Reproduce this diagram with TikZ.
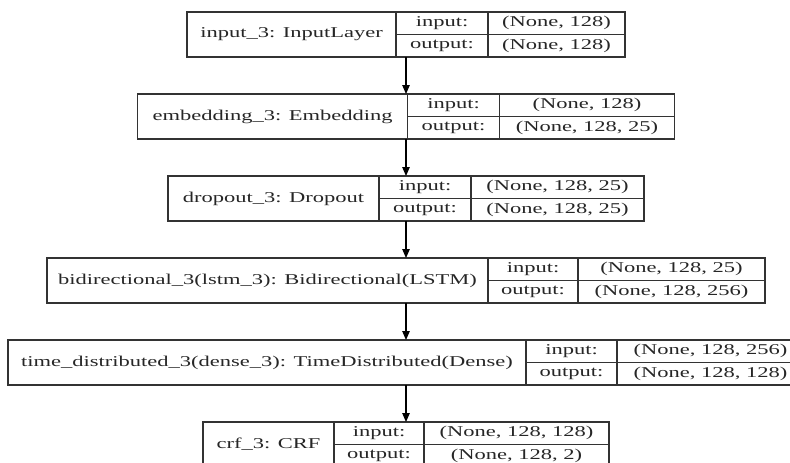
\documentclass[tikz,border=0pt]{standalone}
\usepackage{fontspec}
\setmainfont{Liberation Serif}[FakeStretch=1.5]
\usetikzlibrary{arrows.meta}
\tikzset{
	% record parts of the model graph: whole record, name cell, row cells
	record/.style={draw=black!80, line width=1.1pt, inner sep=0, outer sep=0, minimum height=45},
	namebox/.style={record, anchor=west},
	rowbox/.style={draw=black!80, line width=1.1pt, inner sep=0, outer sep=0, minimum height=22.5, anchor=north west},
	flow/.style={-{Triangle[length=9pt,width=7.5pt]}, draw=black, line width=1.1pt}
}
\begin{document}
\begin{tikzpicture}[x=1pt, y=-1pt, font=\fontsize{15}{18}\selectfont, text=black!85]
\useasboundingbox (0,0) rectangle (790,463);
\clip (0,0) rectangle (790,463);

% input layer (level 1)
\node[record, minimum width=438] (inp) at (406,34.5) {};
\node[namebox, minimum width=209] (inp-name) at (inp.west) {input\_3: InputLayer};
\node[rowbox, minimum width=92] (inp-in) at (inp-name.north east) {input:};
\node[rowbox, minimum width=137] (inp-inv) at (inp-in.north east) {(None, 128)};
\node[rowbox, minimum width=92] (inp-out) at (inp-in.south west) {output:};
\node[rowbox, minimum width=137] (inp-outv) at (inp-out.north east) {(None, 128)};

% embedding (level 2)
\node[record, minimum width=537] (emb) at (406,116.5) {};
\node[namebox, minimum width=270] (emb-name) at (emb.west) {embedding\_3: Embedding};
\node[rowbox, minimum width=92] (emb-in) at (emb-name.north east) {input:};
\node[rowbox, minimum width=175] (emb-inv) at (emb-in.north east) {(None, 128)};
\node[rowbox, minimum width=92] (emb-out) at (emb-in.south west) {output:};
\node[rowbox, minimum width=175] (emb-outv) at (emb-out.north east) {(None, 128, 25)};

% dropout (level 3)
\node[record, minimum width=476] (drop) at (406,198.5) {};
\node[namebox, minimum width=211] (drop-name) at (drop.west) {dropout\_3: Dropout};
\node[rowbox, minimum width=92] (drop-in) at (drop-name.north east) {input:};
\node[rowbox, minimum width=173] (drop-inv) at (drop-in.north east) {(None, 128, 25)};
\node[rowbox, minimum width=92] (drop-out) at (drop-in.south west) {output:};
\node[rowbox, minimum width=173] (drop-outv) at (drop-out.north east) {(None, 128, 25)};

% bidirectional lstm (level 4)
\node[record, minimum width=718] (bilstm) at (406,280.5) {};
\node[namebox, minimum width=441] (bilstm-name) at (bilstm.west) {bidirectional\_3(lstm\_3): Bidirectional(LSTM)};
\node[rowbox, minimum width=90] (bilstm-in) at (bilstm-name.north east) {input:};
\node[rowbox, minimum width=187] (bilstm-inv) at (bilstm-in.north east) {(None, 128, 25)};
\node[rowbox, minimum width=90] (bilstm-out) at (bilstm-in.south west) {output:};
\node[rowbox, minimum width=187] (bilstm-outv) at (bilstm-out.north east) {(None, 128, 256)};

% time distributed dense (level 5)
\node[record, minimum width=796] (tdd) at (406,362.5) {};
\node[namebox, minimum width=518] (tdd-name) at (tdd.west) {time\_distributed\_3(dense\_3): TimeDistributed(Dense)};
\node[rowbox, minimum width=91] (tdd-in) at (tdd-name.north east) {input:};
\node[rowbox, minimum width=187] (tdd-inv) at (tdd-in.north east) {(None, 128, 256)};
\node[rowbox, minimum width=91] (tdd-out) at (tdd-in.south west) {output:};
\node[rowbox, minimum width=187] (tdd-outv) at (tdd-out.north east) {(None, 128, 128)};

% crf (level 6)
\node[record, minimum width=406] (crf) at (406,444.5) {};
\node[namebox, minimum width=131] (crf-name) at (crf.west) {crf\_3: CRF};
\node[rowbox, minimum width=90] (crf-in) at (crf-name.north east) {input:};
\node[rowbox, minimum width=185] (crf-inv) at (crf-in.north east) {(None, 128, 128)};
\node[rowbox, minimum width=90] (crf-out) at (crf-in.south west) {output:};
\node[rowbox, minimum width=185] (crf-outv) at (crf-out.north east) {(None, 128, 2)};

\path[flow] (inp) edge (emb)
            (emb) edge (drop)
            (drop) edge (bilstm)
            (bilstm) edge (tdd)
            (tdd) edge (crf);

\end{tikzpicture}
\end{document}
